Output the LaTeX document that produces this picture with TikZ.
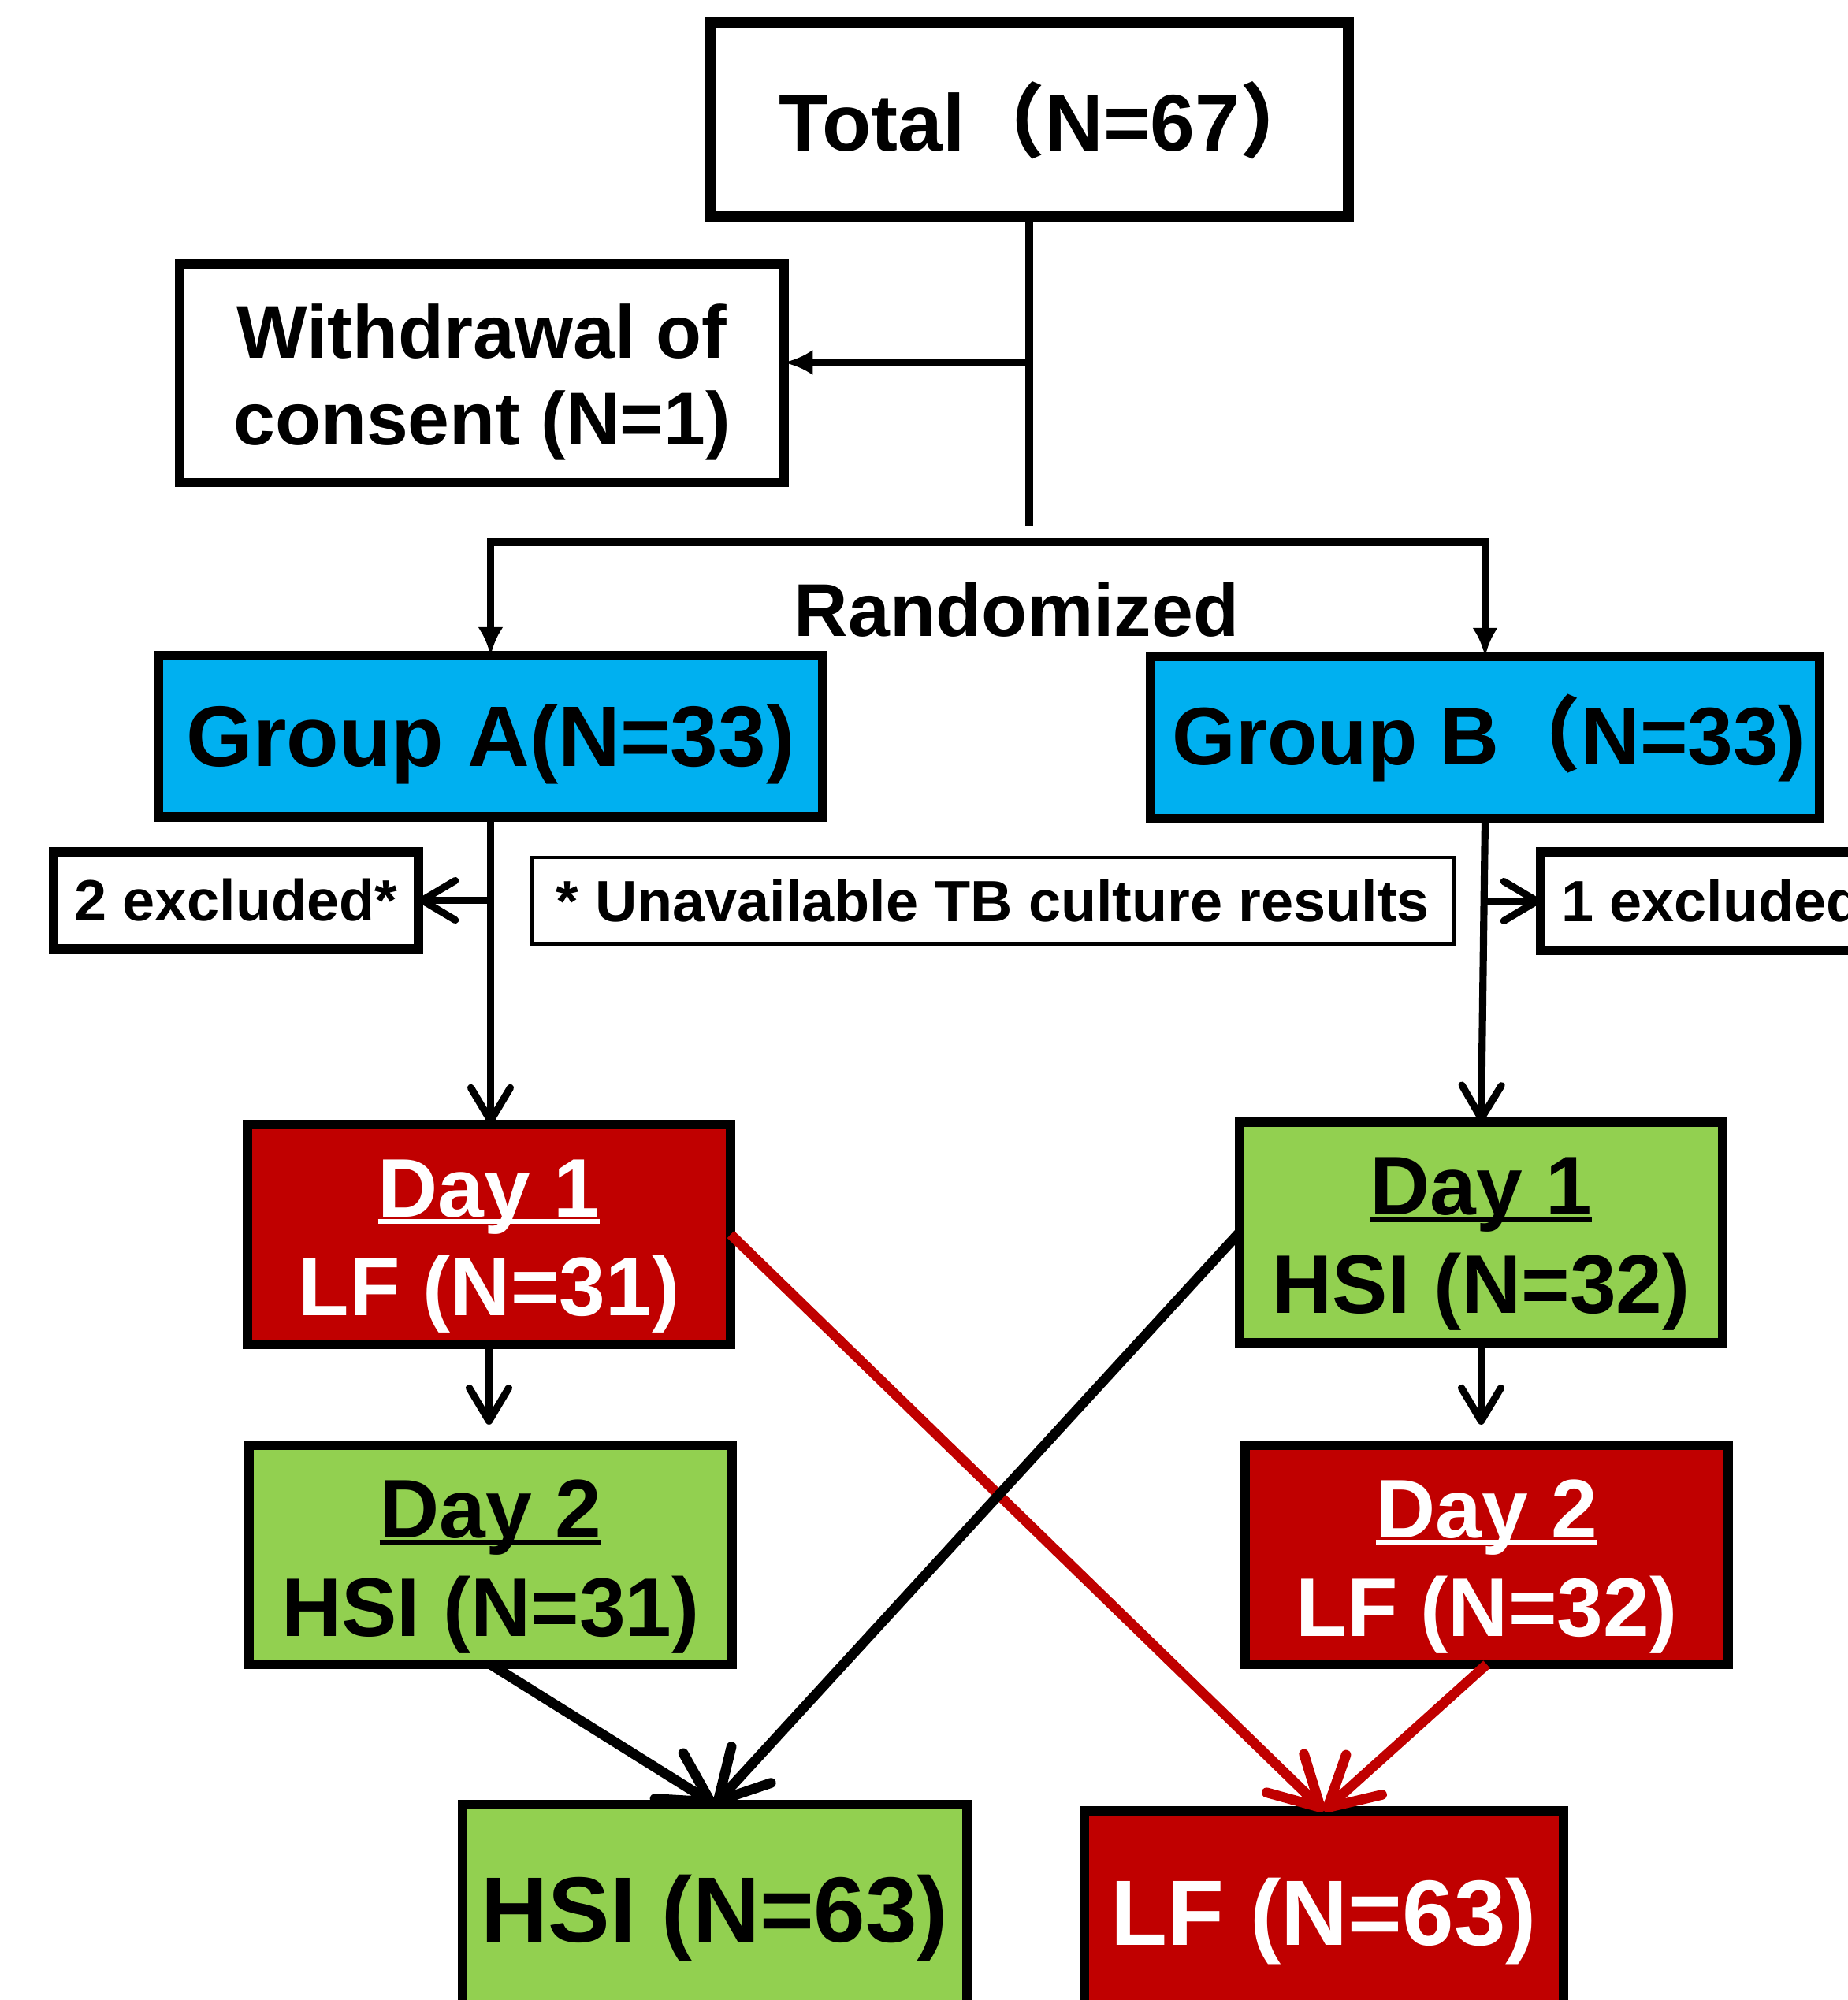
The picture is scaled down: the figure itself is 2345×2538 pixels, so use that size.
\documentclass[tikz,border=0pt]{standalone}
\usepackage{fontspec}
\setmainfont{Liberation Sans}
\newfontfamily\cjk{Noto Sans CJK SC}
\usetikzlibrary{arrows.meta}
\definecolor{cyanA}{HTML}{00B0F0}
\definecolor{redA}{HTML}{C00000}
\definecolor{greenA}{HTML}{92D050}
\newcommand\fwl{\smash{\cjk （}}
\newcommand\fwr{\smash{\cjk ）}}
\newcommand\fsz[2]{\fontsize{#1}{#2}\selectfont}
\newcommand\dayul[1]{\setbox0=\hbox{#1}\rlap{\rule[-0.085em]{\wd0}{0.055em}}\box0}
\begin{document}
\begin{tikzpicture}[x=0.01cm,y=-0.01cm,
 box/.style={draw=black, line width=3.3pt, inner sep=0pt, outer sep=0pt},
 txt/.style={inner sep=0pt, align=center},
 conn/.style={line width=2.6pt, draw=black},
 toptip/.style={conn, -{Latex[length=0.36cm,width=0.32cm]}},
 barb/.style={conn, -{Straight Barb[length=0.42cm,width=0.5cm,round]}},
 cross/.style={line width=3.6pt, -{Straight Barb[length=0.62cm,width=0.68cm,round]}},
 big/.style={font=\bfseries\fsz{30}{35.6}},
 small/.style={font=\bfseries\fsz{21}{25}},
]
\useasboundingbox (0,0) rectangle (2345,2538);
\clip (0,0) rectangle (2345,2538);

% boxes
\node[box, line width=4pt, minimum width=8.1cm, minimum height=2.45cm] (total) at (1306,152) {};
\node[box, minimum width=7.67cm, minimum height=2.77cm] (wd) at (611.5,473.5) {};
\node[box, fill=cyanA, minimum width=8.43cm, minimum height=2.05cm] (ga) at (622.5,934.5) {};
\node[box, fill=cyanA, minimum width=8.49cm, minimum height=2.06cm] (gb) at (1884.5,936) {};
\node[box, minimum width=4.63cm, minimum height=1.23cm] (exa) at (299.5,1142.5) {};
\node[box, line width=1.1pt, minimum width=11.7cm, minimum height=1.1cm] (note) at (1260,1143) {};
\node[box, minimum width=4.63cm, minimum height=1.25cm] (exb) at (2186.5,1143.5) {};
\node[box, fill=redA, minimum width=6.13cm, minimum height=2.79cm] (d1a) at (620.5,1566.5) {};
\node[box, fill=greenA, minimum width=6.13cm, minimum height=2.8cm] (d1b) at (1879.5,1564) {};
\node[box, fill=greenA, minimum width=6.13cm, minimum height=2.78cm] (d2a) at (622.5,1973) {};
\node[box, fill=redA, minimum width=6.13cm, minimum height=2.78cm] (d2b) at (1886.5,1973) {};
\node[box, fill=greenA, minimum width=6.4cm, minimum height=2.76cm] (hsi) at (907,2428) {};
\node[box, fill=redA, minimum width=6.08cm, minimum height=2.68cm] (lf) at (1680,2432) {};

% texts
\node[txt, font=\bfseries\fsz{29}{36}] (totalT) at ([xshift=0.26cm,yshift=-0.03cm]total.center) {Total\fwl N=67\fwr};
\node[txt, font=\bfseries\fsz{27}{31.3}] (wdT) at ([yshift=-0.11cm]wd.center) {Withdrawal of\\consent (N=1)};
\node[txt, font=\bfseries\fsz{31}{36}] (gaT) at ([yshift=-0.1cm]ga.center) {Group A(N=33)};
\node[txt, font=\bfseries\fsz{29.5}{36}] (gbT) at ([xshift=0.05cm,yshift=-0.08cm]gb.center) {Group B\fwl N=33)};
\node[txt, font=\bfseries\fsz{27}{32}] (rand) at (1290,774) {Randomized};
\node[txt, small] (exaT) at (exa.center) {2 excluded*};
\node[txt, small] (noteT) at (note.center) {* Unavailable TB culture results};
\node[txt, small] (exbT) at (exb.center) {1 excluded*};
\node[txt, big, text=white] (d1aT) at ([yshift=-0.15cm]d1a.center) {\dayul{Day 1}\\LF (N=31)};
\node[txt, big] (d1bT) at ([yshift=-0.15cm]d1b.center) {\dayul{Day 1}\\HSI (N=32)};
\node[txt, big] (d2aT) at ([yshift=-0.15cm]d2a.center) {\dayul{Day 2}\\HSI (N=31)};
\node[txt, big, text=white] (d2bT) at ([yshift=-0.15cm]d2b.center) {\dayul{Day 2}\\LF (N=32)};
\node[txt, font=\bfseries\fsz{33.5}{40}] (hsiT) at ([yshift=-0.06cm]hsi.center) {HSI (N=63)};
\node[txt, font=\bfseries\fsz{33.5}{40}, text=white] (lfT) at ([yshift=-0.06cm]lf.center) {LF (N=63)};

% connectors
\coordinate (vend) at (1306,667);
\coordinate (wdj) at (1306,460);
\coordinate (barmid) at (1306,688);
\draw[conn] (total.south) -- (vend);
\draw[toptip] (wdj) -- (wdj -| wd.east);
\draw[toptip] (barmid) -| (ga.north);
\draw[toptip] (barmid) -| (gb.north);

\coordinate (gaj) at (ga.south |- exa.east);
\coordinate (gbj) at (gb.south |- exb.west);
\draw[barb] (ga.south) -- (ga.south |- d1a.north);
\draw[barb] (gaj) -- (exa.east);
\draw[barb] (gb.south) -- (d1b.north);
\draw[barb] (gbj) -- (exb.west);

\draw[barb, shorten >=0.26cm] (d1a.south) -- (d1a.south |- d2a.north);
\draw[barb, shorten >=0.26cm] (d1b.south) -- (d1b.south |- d2b.north);

\draw[cross, draw=redA] (d1a.east) -- (lf.north);
\draw[cross, draw=redA] (d2b.south) -- (lf.north);
\draw[cross] (d1b.west) -- (hsi.north);
\draw[cross] (d2a.south) -- (hsi.north);
\end{tikzpicture}
\end{document}
